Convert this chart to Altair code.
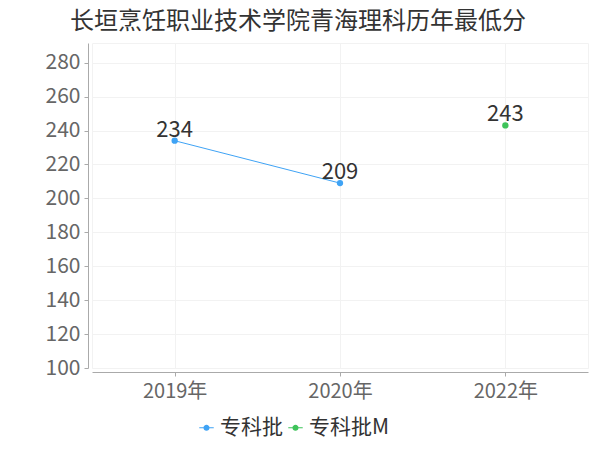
import altair as alt
import pandas as pd

years = ["2019年", "2020年", "2022年"]
series_names = ["专科批", "专科批M"]
s1_years = ["2019年", "2020年"]
s1_scores = [234, 209]
s2_years = ["2022年"]
s2_scores = [243]
colors = ["#3fa3f5", "#3ec35a"]
y_ticks = [100, 120, 140, 160, 180, 200, 220, 240, 260, 280]

rows = []
for y, s in zip(s1_years, s1_scores):
    rows.append({"year": y, "score": s, "series": series_names[0]})
for y, s in zip(s2_years, s2_scores):
    rows.append({"year": y, "score": s, "series": series_names[1]})
df = pd.DataFrame(rows)

FONT = "Noto Sans CJK SC"

legend_path = ("M-1,-0.07H1V0.07H-1Z "
               "M0.42,0A0.42,0.42 0 1 1 -0.42,0A0.42,0.42 0 1 1 0.42,0Z")

x_enc = alt.X("year:N", sort=years, scale=alt.Scale(domain=years, paddingInner=0, paddingOuter=0),
              axis=alt.Axis(title=None, labelAngle=0, labelFontSize=20, labelColor="#666",
                            labelFont=FONT, domainColor="#aaa", tickColor="#aaa", tickSize=4,
                            labelPadding=5, offset=4, gridColor="#f2f2f2", grid=True))
y_enc = alt.Y("score:Q", scale=alt.Scale(domain=[100, 291.6], nice=False, zero=False),
              axis=alt.Axis(title=None, values=y_ticks, labelFontSize=21, labelColor="#666",
                            labelFont=FONT, domainColor="#aaa", tickColor="#aaa", tickSize=4,
                            labelPadding=4, offset=4, gridColor="#f2f2f2"))
color_enc = alt.Color("series:N", scale=alt.Scale(domain=series_names, range=colors),
                      legend=alt.Legend(title=None, orient="none", direction="horizontal",
                                        legendX=104, legendY=374, symbolType=legend_path,
                                        symbolSize=210, symbolStrokeWidth=0,
                                        labelFontSize=21, labelColor="#333", labelFont=FONT,
                                        columnPadding=2, labelOffset=3))

base = alt.Chart(df)
line = base.transform_filter(alt.datum.series == series_names[0]).mark_line(strokeWidth=1).encode(
    x=x_enc, y=y_enc, color=color_enc)
pts = base.mark_point(filled=True, size=40, opacity=1).encode(x=x_enc, y=y_enc, color=color_enc)
labels = base.mark_text(fontSize=22, color="#333", dy=-4, baseline="alphabetic", font=FONT).encode(
    x=x_enc, y=y_enc, text="score:Q")

chart = alt.layer(line, pts, labels).properties(
    width=496, height=325,
    autosize=alt.AutoSizeParams(type="none"),
    padding={"left": 84, "top": 35, "right": 4, "bottom": 74},
    title=alt.TitleParams("长垣烹饪职业技术学院青海理科历年最低分", fontSize=24, color="#333",
                          font=FONT, fontWeight="normal", anchor="middle", dx=-42, offset=9),
).configure_view(stroke="#f2f2f2")

chart.save("out.html", embed_options={"renderer": "svg", "actions": False})
